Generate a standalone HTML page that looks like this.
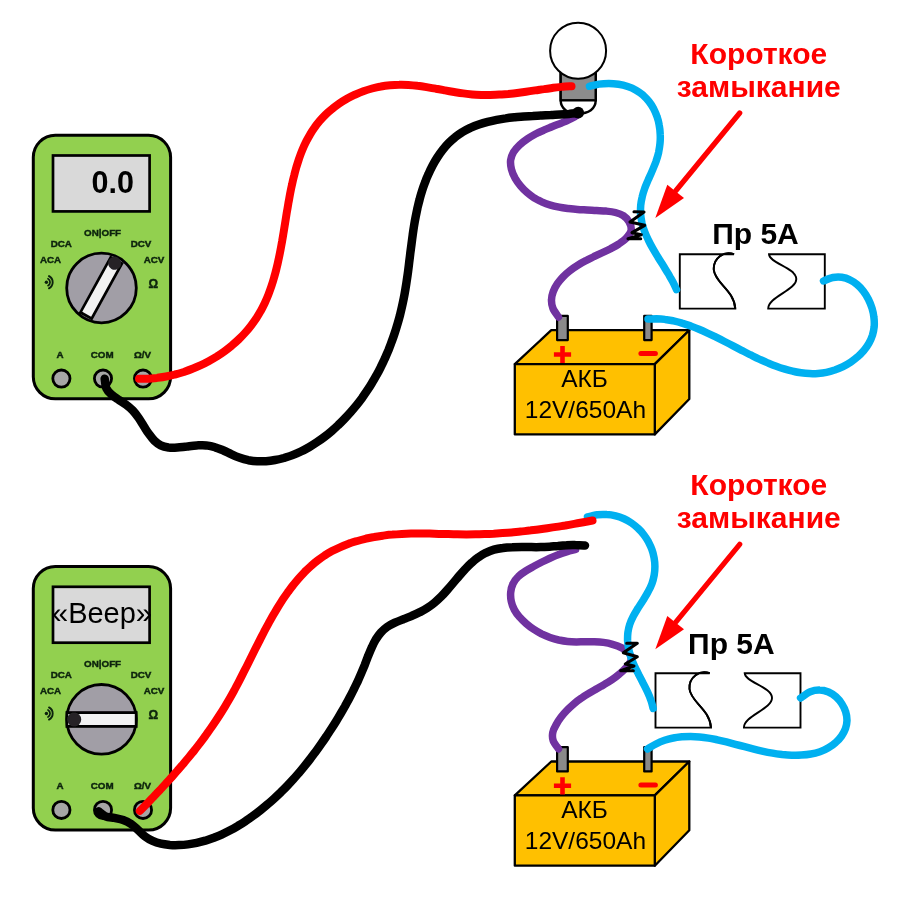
<!DOCTYPE html>
<html lang="ru"><head><meta charset="utf-8"><title>Короткое замыкание</title>
<style>
html,body{margin:0;padding:0;background:#fff;}
body{width:900px;height:910px;overflow:hidden;font-family:"Liberation Sans",sans-serif;}
svg{display:block;}
</style></head>
<body>
<svg width="900" height="910" viewBox="0 0 900 910">
<defs><filter id="soft" x="0" y="0" width="900" height="910" filterUnits="userSpaceOnUse"><feGaussianBlur stdDeviation="0.35"/></filter></defs>
<rect width="900" height="910" fill="#fff"/>
<g filter="url(#soft)">
<!-- ================= TOP ================= -->

<g transform="translate(0,0)">
  <rect x="33.3" y="135.3" width="137.3" height="263.5" rx="22" ry="22" fill="#92d050" stroke="#000" stroke-width="3"/>
  <rect x="53" y="155.5" width="96.6" height="55.9" fill="#d9d9d9" stroke="#000" stroke-width="2.7"/>
  <text x="112.8" y="192.5" font-family="Liberation Sans, sans-serif" font-weight="bold" font-size="30.5" text-anchor="middle" fill="#000">0.0</text>
  <g font-family="Liberation Sans, sans-serif" font-weight="bold" font-size="9.8" fill="#0c240c" stroke="#0c240c" stroke-width="0.45" text-anchor="middle">
    <text x="102.6" y="236">ON|OFF</text>
    <text x="61.3" y="246.6">DCA</text>
    <text x="141" y="246.6">DCV</text>
    <text x="50.5" y="262.6">ACA</text>
    <text x="154" y="262.6">ACV</text>
    <text x="153.4" y="288" font-size="12">Ω</text>
    <text x="60" y="358">A</text>
    <text x="102.2" y="358">COM</text>
    <text x="142.5" y="358">Ω/V</text>
  </g>
  <g fill="none" stroke="#0c240c" stroke-width="1.4" stroke-linecap="round">
    <circle cx="46.4" cy="282.2" r="1.7" fill="#0c240c" stroke="none"/>
    <path d="M48 278.7 A4 4 0 0 1 48 285.7" stroke-width="1.7"/>
    <path d="M49 276.1 A6.9 6.9 0 0 1 49 288.3" stroke-width="1.9"/>
  </g>
  <circle cx="101.5" cy="288" r="34.8" fill="#a19ea6" stroke="#000" stroke-width="2.8"/>
  <g transform="rotate(118.8 101.2 287.9)">
    <rect x="69.75" y="281.5" width="62.9" height="12.8" fill="#f2f2f2" stroke="#000" stroke-width="2.7"/>
    <circle cx="73.1" cy="288" r="6.6" fill="#262428"/>
  </g>
  <circle cx="61.4" cy="378.6" r="8.6" fill="#a6a6a6" stroke="#000" stroke-width="2.8"/>
  <circle cx="103" cy="378.6" r="8.6" fill="#a6a6a6" stroke="#000" stroke-width="2.8"/>
  <circle cx="143" cy="378.6" r="8.6" fill="#a6a6a6" stroke="#000" stroke-width="2.8"/>
</g>
<!-- bulb -->
<path d="M560.7 72V100.3C560.7 109 568 113.6 578.2 113.6C588.5 113.6 595.7 109 595.7 100.3V72Z" fill="#fff" stroke="#000" stroke-width="2.4"/>
<rect x="560.7" y="72" width="35" height="28.3" fill="#8c8c8c" stroke="#000" stroke-width="2.4"/>
<circle cx="578.1" cy="50.7" r="28" fill="#fff" stroke="#000" stroke-width="2"/>

<g transform="translate(0,0)" stroke-linejoin="round">
  <polygon points="514.8,364.1 551.3,330.2 689.3,330.2 654.8,364.1" fill="#ffc000" stroke="#000" stroke-width="2.3"/>
  <polygon points="654.8,364.1 689.3,330.2 689.3,399 654.8,434.4" fill="#ffc000" stroke="#000" stroke-width="2.3"/>
  <rect x="514.8" y="364.1" width="140" height="70.3" fill="#ffc000" stroke="#000" stroke-width="2.3"/>
  <rect x="557.1" y="315.9" width="10.7" height="24.2" fill="#8a8a8a" stroke="#000" stroke-width="2.2"/>
  <rect x="644.2" y="315.9" width="7.4" height="24.2" fill="#8a8a8a" stroke="#000" stroke-width="2.2"/>
  <path d="M553.9 354.5h17.2M562.5 345.9v17.2" stroke="#ff0000" stroke-width="4.6" fill="none"/>
  <path d="M640.9 353.6h14.5" stroke="#ff0000" stroke-width="5" stroke-linecap="round" fill="none"/>
  <g font-family="Liberation Sans, sans-serif" fill="#000" text-anchor="middle" stroke="none">
    <text x="584.6" y="386.8" font-size="24.5">АКБ</text>
    <text x="585.4" y="417.5" font-size="24.5">12V/650Ah</text>
  </g>
</g>

<g transform="translate(0,0)" fill="#fff" stroke="#000" stroke-width="1.9" stroke-linejoin="miter">
  <path d="M734 254.2H679.8V308.6H735.3C734 290 715 283 713.8 270C713 258 724 250.5 734 254.2Z" fill="#fff"/>
  <path d="M734 254.2C724 250.5 713 258 713.8 270C715 283 734 290 735.3 308.6" fill="none"/>
  <path d="M769 254.2H824.8V308.6H768.2C768 297 796.3 290 796.3 279C796.3 268 769.2 263 769 254.2Z"/>
</g>
<text x="755.5" y="243.5" font-family="Liberation Sans, sans-serif" font-weight="bold" font-size="30" text-anchor="middle" fill="#000">Пр 5А</text>
<g fill="none" stroke-linecap="round" stroke-linejoin="round">
  <path d="M577.0 115.5C575.6 116.2 571.4 118.5 568.6 119.8C565.8 121.2 563.0 122.3 560.3 123.5C557.5 124.6 554.7 125.6 551.9 126.8C549.2 127.9 546.4 128.9 543.7 130.2C540.9 131.4 538.2 132.6 535.5 134.0C532.8 135.5 530.1 137.0 527.4 138.9C524.8 140.7 522.0 142.7 519.6 144.9C517.3 147.1 515.0 149.6 513.5 152.1C512.0 154.7 511.0 157.5 510.6 160.3C510.3 163.1 510.7 166.2 511.4 169.1C512.1 172.0 513.4 175.0 514.9 177.8C516.5 180.6 518.5 183.4 520.5 185.9C522.5 188.3 524.8 190.7 527.2 192.7C529.5 194.7 531.9 196.5 534.4 198.1C537.0 199.6 539.6 201.0 542.3 202.1C544.9 203.3 547.7 204.3 550.5 205.1C553.4 206.0 556.3 206.6 559.2 207.2C562.1 207.8 565.2 208.2 568.2 208.6C571.2 208.9 574.3 209.2 577.5 209.4C580.6 209.7 583.7 209.8 586.9 210.0C590.1 210.2 593.3 210.3 596.5 210.5C599.7 210.7 603.0 210.8 606.2 211.1C609.3 211.4 612.5 211.7 615.4 212.5C618.2 213.3 621.0 214.2 623.3 215.7C625.6 217.3 627.9 219.4 629.2 221.9C630.5 224.3 631.5 227.8 631.1 230.5C630.6 233.2 628.3 235.8 626.3 238.1C624.2 240.3 621.4 242.2 618.8 244.0C616.2 245.7 613.5 247.1 610.8 248.6C608.0 250.0 605.2 251.3 602.4 252.6C599.6 253.9 596.8 255.2 594.0 256.5C591.3 257.9 588.5 259.2 585.8 260.7C583.1 262.1 580.4 263.6 577.8 265.2C575.2 266.8 572.7 268.5 570.2 270.4C567.8 272.3 565.4 274.4 563.3 276.6C561.2 278.8 559.1 281.2 557.4 283.7C555.7 286.2 554.2 288.9 553.2 291.6C552.2 294.3 551.5 297.1 551.5 299.9C551.4 302.7 551.8 305.6 553.0 308.5C554.2 311.3 557.6 315.6 558.5 317.0" stroke="#7030a0" stroke-width="7.5"/>
  <path d="M589.5 86.3C591.1 85.9 595.7 84.6 598.9 84.1C602.2 83.6 605.5 83.4 608.8 83.4C612.0 83.4 615.3 83.7 618.5 84.2C621.7 84.7 624.8 85.5 627.7 86.5C630.6 87.5 633.4 88.7 636.0 90.2C638.5 91.6 640.9 93.3 643.1 95.2C645.2 97.1 647.2 99.2 648.9 101.4C650.7 103.7 652.2 106.1 653.6 108.6C654.9 111.2 656.1 113.8 657.0 116.6C658.0 119.4 658.7 122.2 659.2 125.2C659.8 128.1 660.1 131.1 660.2 134.2C660.4 137.2 660.3 140.3 660.0 143.4C659.7 146.5 659.2 149.6 658.6 152.6C657.9 155.7 656.9 158.7 655.9 161.7C654.8 164.7 653.5 167.7 652.3 170.6C651.1 173.6 649.7 176.5 648.4 179.4C647.2 182.3 645.9 185.2 644.8 188.1C643.8 191.0 642.8 193.9 642.2 196.8C641.5 199.7 641.0 202.6 640.7 205.4C640.5 208.3 640.4 211.2 640.6 214.1C640.8 217.0 641.3 219.9 641.9 222.8C642.6 225.7 643.5 228.6 644.6 231.5C645.7 234.4 647.0 237.3 648.4 240.1C649.7 243.0 651.3 245.9 652.9 248.7C654.5 251.5 656.3 254.4 658.0 257.2C659.7 260.0 661.5 262.8 663.2 265.5C664.9 268.3 666.6 271.0 668.2 273.7C669.8 276.5 671.4 279.1 672.8 281.8C674.2 284.4 675.9 288.3 676.5 289.6" stroke="#00b0f0" stroke-width="7.5"/>
  <path d="M823.5 281.0C825.1 280.4 829.9 278.1 832.9 277.5C835.9 276.9 838.9 276.9 841.8 277.2C844.6 277.6 847.4 278.5 849.9 279.8C852.5 281.0 855.0 282.7 857.2 284.6C859.5 286.5 861.6 288.8 863.4 291.2C865.3 293.7 867.0 296.4 868.4 299.2C869.8 302.0 871.0 305.0 872.0 308.1C872.9 311.1 873.6 314.2 873.9 317.3C874.3 320.4 874.4 323.5 874.2 326.5C873.9 329.4 873.3 332.4 872.5 335.1C871.6 337.9 870.4 340.6 869.0 343.1C867.6 345.6 865.9 348.0 864.1 350.3C862.2 352.5 860.2 354.7 857.9 356.6C855.7 358.6 853.3 360.4 850.8 362.1C848.4 363.7 845.7 365.2 843.0 366.6C840.4 367.9 837.6 369.0 834.8 370.0C832.0 370.9 829.2 371.7 826.4 372.3C823.6 372.9 820.8 373.2 818.0 373.4C815.2 373.7 812.3 373.7 809.5 373.6C806.7 373.5 803.9 373.2 801.1 372.8C798.2 372.4 795.4 371.9 792.6 371.2C789.8 370.6 786.9 369.8 784.1 368.9C781.3 368.1 778.5 367.1 775.6 366.0C772.8 365.0 770.0 363.8 767.1 362.6C764.3 361.4 761.5 360.1 758.6 358.8C755.8 357.5 753.0 356.1 750.1 354.7C747.3 353.2 744.5 351.8 741.6 350.3C738.8 348.9 735.9 347.4 733.1 345.9C730.3 344.4 727.4 342.9 724.6 341.5C721.7 340.0 718.9 338.6 716.1 337.2C713.2 335.8 710.4 334.4 707.5 333.1C704.7 331.8 701.9 330.5 699.0 329.3C696.2 328.1 693.3 327.0 690.5 325.9C687.7 324.9 684.8 323.9 682.0 323.1C679.2 322.2 676.3 321.5 673.5 320.9C670.6 320.3 667.8 319.7 665.0 319.4C662.1 319.0 659.3 318.8 656.5 318.7C653.7 318.7 649.4 319.0 648.0 319.0" stroke="#00b0f0" stroke-width="7.5"/>
  <path d="M104.7 378.7C105.0 380.3 105.2 385.5 106.3 388.2C107.5 390.9 109.5 392.8 111.6 394.7C113.6 396.6 116.2 398.1 118.6 399.7C121.0 401.4 123.6 402.8 126.0 404.6C128.4 406.4 130.7 408.3 132.8 410.5C134.9 412.7 136.8 415.3 138.6 417.9C140.4 420.5 142.0 423.3 143.7 426.0C145.4 428.6 147.0 431.4 148.8 433.8C150.6 436.3 152.3 438.7 154.3 440.6C156.3 442.5 158.4 444.2 160.7 445.3C163.1 446.5 165.7 447.1 168.5 447.5C171.3 447.8 174.3 447.7 177.4 447.5C180.5 447.3 183.7 446.8 187.0 446.5C190.2 446.1 193.5 445.6 196.7 445.4C199.9 445.3 203.2 445.1 206.2 445.4C209.3 445.8 212.2 446.4 215.1 447.3C218.0 448.1 220.7 449.4 223.5 450.5C226.2 451.7 228.9 453.1 231.6 454.3C234.3 455.6 237.0 456.8 239.8 457.8C242.6 458.8 245.4 459.6 248.3 460.2C251.2 460.7 254.1 461.1 257.1 461.2C260.0 461.4 263.0 461.4 266.0 461.2C269.0 461.0 272.0 460.6 275.0 460.0C278.0 459.5 280.9 458.8 283.9 458.0C286.8 457.1 289.7 456.2 292.5 455.1C295.4 454.0 298.2 452.8 300.9 451.5C303.7 450.2 306.4 448.7 309.0 447.2C311.7 445.7 314.3 444.0 316.8 442.3C319.4 440.6 321.9 438.8 324.3 437.0C326.8 435.1 329.2 433.2 331.5 431.2C333.8 429.2 336.1 427.1 338.3 425.0C340.6 422.9 342.7 420.7 344.8 418.5C346.9 416.3 349.0 414.1 351.0 411.8C353.0 409.5 354.9 407.2 356.8 404.9C358.7 402.5 360.5 400.1 362.3 397.7C364.0 395.2 365.7 392.7 367.4 390.2C369.1 387.7 370.7 385.2 372.2 382.6C373.8 380.0 375.3 377.4 376.7 374.8C378.2 372.2 379.6 369.5 380.9 366.8C382.3 364.1 383.5 361.4 384.8 358.7C386.0 355.9 387.2 353.2 388.4 350.4C389.5 347.6 390.6 344.8 391.6 341.9C392.7 339.1 393.7 336.2 394.6 333.4C395.6 330.5 396.5 327.6 397.3 324.7C398.2 321.8 399.0 318.9 399.8 315.9C400.5 313.0 401.2 310.1 401.9 307.1C402.6 304.1 403.2 301.2 403.8 298.2C404.4 295.2 404.9 292.2 405.4 289.2C405.9 286.2 406.4 283.2 406.8 280.2C407.3 277.2 407.7 274.2 408.1 271.2C408.5 268.2 408.9 265.2 409.2 262.1C409.6 259.1 410.0 256.1 410.3 253.1C410.7 250.1 411.1 247.1 411.5 244.1C411.9 241.1 412.3 238.0 412.7 235.0C413.1 232.1 413.5 229.1 414.0 226.1C414.5 223.1 415.0 220.1 415.6 217.2C416.2 214.2 416.8 211.2 417.4 208.3C418.1 205.4 418.8 202.4 419.6 199.5C420.3 196.6 421.2 193.7 422.1 190.8C423.0 188.0 424.0 185.1 425.1 182.3C426.1 179.4 427.3 176.6 428.6 173.8C429.8 171.0 431.2 168.2 432.6 165.5C434.0 162.8 435.6 160.1 437.2 157.6C438.9 155.0 440.6 152.5 442.5 150.1C444.4 147.7 446.3 145.4 448.4 143.3C450.5 141.2 452.7 139.1 455.0 137.3C457.3 135.4 459.8 133.7 462.3 132.1C464.9 130.6 467.6 129.2 470.3 127.9C473.1 126.7 475.9 125.6 478.8 124.6C481.7 123.6 484.7 122.7 487.7 121.9C490.6 121.2 493.7 120.5 496.7 119.9C499.7 119.3 502.7 118.8 505.7 118.4C508.7 117.9 511.8 117.6 514.8 117.3C517.8 116.9 520.8 116.7 523.8 116.4C526.8 116.2 529.8 116.0 532.8 115.9C535.8 115.7 538.8 115.5 541.8 115.4C544.8 115.2 547.8 115.1 550.8 115.0C553.8 114.8 556.8 114.7 559.8 114.5C562.8 114.3 565.8 114.1 568.9 113.9C571.9 113.6 576.5 113.1 578.0 113.0" stroke="#000" stroke-width="8.5"/>
  <path d="M139.0 378.8C140.5 378.8 145.0 378.8 148.0 378.7C151.0 378.5 154.0 378.2 157.0 377.9C160.0 377.5 163.1 377.1 166.0 376.5C169.0 375.9 172.0 375.3 175.0 374.5C177.9 373.8 180.9 372.9 183.8 372.0C186.7 371.0 189.6 370.0 192.4 368.8C195.3 367.7 198.1 366.5 200.9 365.2C203.7 363.9 206.4 362.5 209.1 361.0C211.8 359.5 214.4 358.0 217.0 356.4C219.6 354.7 222.1 353.0 224.6 351.2C227.1 349.4 229.5 347.5 231.8 345.6C234.1 343.6 236.4 341.6 238.6 339.5C240.8 337.4 242.9 335.3 244.9 333.0C246.9 330.8 248.9 328.5 250.7 326.1C252.5 323.8 254.3 321.3 256.0 318.8C257.6 316.3 259.2 313.8 260.6 311.2C262.1 308.6 263.4 305.9 264.7 303.2C266.0 300.4 267.2 297.7 268.3 294.9C269.4 292.0 270.4 289.2 271.4 286.3C272.4 283.4 273.3 280.4 274.1 277.5C275.0 274.5 275.8 271.5 276.5 268.5C277.3 265.4 278.0 262.4 278.6 259.3C279.3 256.2 279.9 253.1 280.5 250.0C281.1 246.9 281.6 243.8 282.2 240.7C282.7 237.5 283.3 234.4 283.8 231.2C284.3 228.1 284.8 225.0 285.3 221.8C285.8 218.7 286.3 215.5 286.8 212.4C287.4 209.3 287.9 206.2 288.4 203.1C289.0 200.0 289.5 196.9 290.1 193.8C290.7 190.7 291.3 187.7 292.0 184.7C292.6 181.7 293.3 178.7 294.1 175.7C294.8 172.8 295.6 169.9 296.4 167.0C297.3 164.1 298.2 161.3 299.1 158.5C300.1 155.7 301.1 152.9 302.2 150.3C303.3 147.6 304.5 144.9 305.8 142.3C307.1 139.8 308.4 137.2 309.9 134.8C311.3 132.3 312.8 129.9 314.5 127.6C316.1 125.3 317.9 123.0 319.7 120.9C321.6 118.7 323.6 116.6 325.6 114.6C327.7 112.5 329.9 110.6 332.2 108.8C334.5 106.9 336.9 105.2 339.3 103.5C341.8 101.8 344.3 100.3 346.9 98.8C349.5 97.3 352.2 96.0 354.9 94.7C357.7 93.5 360.5 92.3 363.3 91.3C366.2 90.2 369.1 89.3 372.0 88.5C374.9 87.7 377.9 87.0 380.9 86.5C383.9 85.9 386.9 85.5 390.0 85.2C393.0 84.9 396.1 84.7 399.1 84.7C402.2 84.6 405.2 84.7 408.3 84.9C411.3 85.1 414.4 85.4 417.4 85.8C420.5 86.1 423.6 86.6 426.6 87.1C429.7 87.6 432.8 88.1 435.8 88.7C438.9 89.2 441.9 89.8 445.0 90.4C448.0 90.9 451.1 91.5 454.1 92.0C457.2 92.5 460.2 93.0 463.2 93.4C466.3 93.8 469.3 94.1 472.3 94.4C475.3 94.7 478.3 94.8 481.3 94.9C484.3 95.0 487.3 95.0 490.3 95.0C493.3 94.9 496.3 94.8 499.3 94.6C502.3 94.5 505.2 94.2 508.2 94.0C511.2 93.7 514.2 93.4 517.2 93.0C520.1 92.6 523.1 92.2 526.1 91.8C529.1 91.4 532.1 90.9 535.1 90.4C538.1 90.0 541.1 89.5 544.1 89.1C547.1 88.6 550.2 88.2 553.2 87.8C556.2 87.4 559.3 87.1 562.3 86.8C565.4 86.5 570.0 86.3 571.5 86.2" stroke="#ff0000" stroke-width="8"/>
  <path d="M634.0 211.7L644.0 212.0L630.0 222.0L644.7 225.3L632.0 232.7L641.3 234.7L628.0 238.7L640.7 238.7" stroke="#000" stroke-width="3.1"/>
</g>
<circle cx="578.2" cy="112.6" r="5.9" fill="#000"/>

<g transform="translate(0,0)" font-family="Liberation Sans, sans-serif" font-weight="bold" fill="#ff0000" text-anchor="middle" font-size="30">
  <text x="758.8" y="64">Короткое</text>
  <text x="758.8" y="97.2">замыкание</text>
</g>
<g transform="translate(0,0)">
  <path d="M739.7 113L676 190.5" stroke="#ff0000" stroke-width="5.2" stroke-linecap="round" fill="none"/>
  <polygon points="655.3,218 667.3,184.7 684,198" fill="#ff0000"/>
</g>
<!-- ================= BOTTOM ================= -->

<g transform="translate(0,431.3)">
  <rect x="33.3" y="135.3" width="137.3" height="263.5" rx="22" ry="22" fill="#92d050" stroke="#000" stroke-width="3"/>
  <rect x="53" y="155.5" width="96.6" height="55.9" fill="#d9d9d9" stroke="#000" stroke-width="2.7"/>
  <text x="102" y="192" font-family="Liberation Sans, sans-serif" font-size="29" text-anchor="middle" fill="#000">«Beep»</text>
  <g font-family="Liberation Sans, sans-serif" font-weight="bold" font-size="9.8" fill="#0c240c" stroke="#0c240c" stroke-width="0.45" text-anchor="middle">
    <text x="102.6" y="236">ON|OFF</text>
    <text x="61.3" y="246.6">DCA</text>
    <text x="141" y="246.6">DCV</text>
    <text x="50.5" y="262.6">ACA</text>
    <text x="154" y="262.6">ACV</text>
    <text x="153.4" y="288" font-size="12">Ω</text>
    <text x="60" y="358">A</text>
    <text x="102.2" y="358">COM</text>
    <text x="142.5" y="358">Ω/V</text>
  </g>
  <g fill="none" stroke="#0c240c" stroke-width="1.4" stroke-linecap="round">
    <circle cx="46.4" cy="282.2" r="1.7" fill="#0c240c" stroke="none"/>
    <path d="M48 278.7 A4 4 0 0 1 48 285.7" stroke-width="1.7"/>
    <path d="M49 276.1 A6.9 6.9 0 0 1 49 288.3" stroke-width="1.9"/>
  </g>
  <circle cx="101.5" cy="288" r="34.8" fill="#a19ea6" stroke="#000" stroke-width="2.8"/>
  <g>
    <rect x="66.9" y="281.3" width="69.3" height="13.8" fill="#f2f2f2" stroke="#000" stroke-width="2.8"/>
    <circle cx="74.2" cy="288.2" r="7" fill="#262428"/>
  </g>
  <circle cx="61.4" cy="378.6" r="8.6" fill="#a6a6a6" stroke="#000" stroke-width="2.8"/>
  <circle cx="103" cy="378.6" r="8.6" fill="#a6a6a6" stroke="#000" stroke-width="2.8"/>
  <circle cx="143" cy="378.6" r="8.6" fill="#a6a6a6" stroke="#000" stroke-width="2.8"/>
</g>

<g transform="translate(0,431.3)" stroke-linejoin="round">
  <polygon points="514.8,364.1 551.3,330.2 689.3,330.2 654.8,364.1" fill="#ffc000" stroke="#000" stroke-width="2.3"/>
  <polygon points="654.8,364.1 689.3,330.2 689.3,399 654.8,434.4" fill="#ffc000" stroke="#000" stroke-width="2.3"/>
  <rect x="514.8" y="364.1" width="140" height="70.3" fill="#ffc000" stroke="#000" stroke-width="2.3"/>
  <rect x="557.1" y="315.9" width="10.7" height="24.2" fill="#8a8a8a" stroke="#000" stroke-width="2.2"/>
  <rect x="644.2" y="315.9" width="7.4" height="24.2" fill="#8a8a8a" stroke="#000" stroke-width="2.2"/>
  <path d="M553.9 354.5h17.2M562.5 345.9v17.2" stroke="#ff0000" stroke-width="4.6" fill="none"/>
  <path d="M640.9 353.6h14.5" stroke="#ff0000" stroke-width="5" stroke-linecap="round" fill="none"/>
  <g font-family="Liberation Sans, sans-serif" fill="#000" text-anchor="middle" stroke="none">
    <text x="584.6" y="386.8" font-size="24.5">АКБ</text>
    <text x="585.4" y="417.5" font-size="24.5">12V/650Ah</text>
  </g>
</g>

<g transform="translate(-24.3,419)" fill="#fff" stroke="#000" stroke-width="1.9" stroke-linejoin="miter">
  <path d="M734 254.2H679.8V308.6H735.3C734 290 715 283 713.8 270C713 258 724 250.5 734 254.2Z" fill="#fff"/>
  <path d="M734 254.2C724 250.5 713 258 713.8 270C715 283 734 290 735.3 308.6" fill="none"/>
  <path d="M769 254.2H824.8V308.6H768.2C768 297 796.3 290 796.3 279C796.3 268 769.2 263 769 254.2Z"/>
</g>
<text x="731.4" y="654" font-family="Liberation Sans, sans-serif" font-weight="bold" font-size="30" text-anchor="middle" fill="#000">Пр 5А</text>
<g fill="none" stroke-linecap="round" stroke-linejoin="round">
  <path d="M575.6 549.5C574.1 549.9 569.5 551.0 566.6 551.9C563.6 552.7 560.8 553.7 558.1 554.8C555.3 555.8 552.6 557.0 549.9 558.2C547.3 559.4 544.6 560.7 542.0 562.0C539.3 563.4 536.6 564.8 533.9 566.3C531.2 567.8 528.3 569.3 525.7 571.0C523.0 572.7 520.3 574.5 518.2 576.6C516.0 578.7 514.2 581.2 513.0 583.8C511.7 586.4 511.0 589.5 510.7 592.4C510.4 595.4 510.7 598.6 511.3 601.5C511.9 604.4 513.0 607.3 514.4 609.9C515.8 612.6 517.7 615.0 519.7 617.2C521.6 619.5 523.9 621.6 526.2 623.6C528.5 625.6 531.0 627.5 533.5 629.1C536.1 630.8 538.8 632.4 541.5 633.8C544.3 635.1 547.1 636.3 550.0 637.4C552.8 638.4 555.8 639.3 558.7 640.0C561.7 640.6 564.6 641.1 567.6 641.4C570.6 641.7 573.5 641.8 576.5 641.9C579.4 641.9 582.4 641.8 585.4 641.8C588.3 641.8 591.3 641.7 594.3 641.8C597.3 641.9 600.3 642.0 603.4 642.4C606.4 642.8 609.5 643.4 612.5 644.3C615.6 645.2 619.0 646.4 621.8 647.9C624.6 649.4 627.7 651.2 629.3 653.3C630.8 655.3 631.6 657.8 631.1 660.2C630.6 662.6 628.1 665.3 626.1 667.7C624.1 670.0 621.7 672.2 619.3 674.1C617.0 676.1 614.6 677.9 612.1 679.6C609.6 681.3 607.1 682.8 604.5 684.3C602.0 685.9 599.4 687.3 596.8 688.8C594.2 690.3 591.6 691.7 589.0 693.3C586.4 694.8 583.8 696.4 581.3 698.2C578.8 699.9 576.3 701.8 573.9 703.8C571.6 705.8 569.2 707.9 567.1 710.1C564.9 712.3 562.9 714.7 561.1 717.1C559.3 719.5 557.6 722.0 556.2 724.6C554.8 727.1 553.3 729.7 552.8 732.4C552.3 735.1 552.2 738.0 553.2 740.7C554.2 743.5 557.6 747.5 558.5 748.8" stroke="#7030a0" stroke-width="7.5"/>
  <path d="M587.5 517.0C589.1 516.6 594.2 515.3 597.4 514.8C600.6 514.4 603.8 514.4 606.8 514.6C609.9 514.7 612.9 515.2 615.7 515.9C618.6 516.6 621.3 517.6 624.0 518.8C626.6 520.0 629.1 521.4 631.5 523.0C633.8 524.6 636.1 526.4 638.1 528.4C640.2 530.3 642.1 532.5 643.8 534.7C645.6 537.0 647.1 539.4 648.5 541.9C649.8 544.4 651.0 547.0 651.9 549.6C652.9 552.3 653.6 555.1 654.1 557.9C654.6 560.7 654.9 563.5 654.9 566.4C654.9 569.2 654.7 572.1 654.2 575.0C653.7 577.8 653.0 580.7 652.0 583.5C651.0 586.3 649.6 589.1 648.1 591.8C646.7 594.6 644.9 597.3 643.3 600.0C641.6 602.7 639.8 605.4 638.1 608.0C636.5 610.7 634.8 613.4 633.4 616.1C632.0 618.8 630.8 621.5 629.8 624.2C628.9 627.0 628.3 629.7 627.9 632.5C627.6 635.3 627.5 638.1 627.6 640.9C627.8 643.7 628.2 646.5 628.8 649.4C629.4 652.2 630.2 655.1 631.2 657.9C632.2 660.7 633.5 663.6 634.7 666.4C636.0 669.3 637.5 672.1 638.9 675.0C640.4 677.8 641.9 680.7 643.3 683.5C644.8 686.3 646.2 689.1 647.5 691.9C648.8 694.7 650.0 697.5 650.9 700.3C651.9 703.0 652.8 707.1 653.2 708.5" stroke="#00b0f0" stroke-width="7.5"/>
  <path d="M800.6 698.0C802.2 696.9 807.1 693.0 810.3 691.7C813.5 690.4 816.8 689.9 819.8 690.0C822.8 690.0 825.8 690.9 828.5 692.0C831.2 693.2 833.8 694.9 836.1 696.9C838.3 698.9 840.3 701.3 841.9 703.9C843.5 706.4 844.9 709.2 845.7 712.0C846.6 714.8 847.0 717.7 847.0 720.4C846.9 723.2 846.4 726.0 845.5 728.6C844.6 731.2 843.2 733.7 841.6 736.0C840.0 738.3 837.9 740.6 835.7 742.5C833.6 744.5 831.0 746.3 828.4 747.8C825.8 749.4 822.9 750.7 820.0 751.7C817.1 752.7 814.0 753.5 810.9 754.0C807.8 754.6 804.5 754.9 801.3 755.1C798.1 755.3 794.9 755.3 791.7 755.2C788.5 755.1 785.3 754.8 782.1 754.5C778.9 754.1 775.8 753.7 772.6 753.1C769.5 752.6 766.3 752.0 763.2 751.3C760.1 750.6 757.0 749.9 753.9 749.1C750.8 748.3 747.7 747.5 744.6 746.7C741.5 745.9 738.5 745.1 735.4 744.3C732.4 743.5 729.4 742.7 726.4 741.9C723.3 741.2 720.3 740.5 717.3 739.8C714.3 739.2 711.4 738.6 708.4 738.1C705.4 737.6 702.5 737.2 699.5 736.9C696.6 736.6 693.6 736.4 690.7 736.4C687.8 736.4 684.8 736.4 681.9 736.7C679.0 737.0 676.1 737.3 673.2 738.0C670.4 738.6 667.5 739.3 664.6 740.3C661.7 741.3 658.9 742.5 656.0 744.0C653.2 745.4 648.9 748.2 647.5 749.0" stroke="#00b0f0" stroke-width="7.5"/>
  <path d="M98.5 811.3C99.7 812.1 102.9 815.2 105.5 816.3C108.1 817.4 111.4 817.4 114.3 817.9C117.3 818.5 120.4 818.9 123.2 819.9C126.0 820.9 128.6 822.2 131.1 823.9C133.6 825.6 135.8 827.9 138.1 830.0C140.4 832.0 142.5 834.5 144.9 836.3C147.3 838.1 149.9 839.7 152.6 840.9C155.3 842.1 158.1 843.0 161.0 843.7C163.9 844.4 166.9 844.7 169.9 845.0C172.9 845.2 175.9 845.2 178.9 845.1C181.9 845.0 184.9 844.8 187.9 844.4C190.8 844.0 193.8 843.5 196.7 842.9C199.6 842.3 202.5 841.5 205.3 840.7C208.2 839.8 211.0 838.8 213.8 837.8C216.6 836.7 219.4 835.6 222.1 834.3C224.8 833.1 227.5 831.7 230.2 830.3C232.9 828.9 235.5 827.4 238.1 825.8C240.7 824.3 243.3 822.6 245.8 820.9C248.4 819.3 250.9 817.5 253.3 815.7C255.8 813.9 258.2 812.0 260.6 810.1C263.0 808.2 265.3 806.3 267.6 804.3C269.9 802.4 272.2 800.3 274.4 798.3C276.6 796.3 278.8 794.2 281.0 792.1C283.1 790.0 285.2 787.9 287.3 785.7C289.4 783.5 291.4 781.3 293.4 779.1C295.4 776.9 297.4 774.6 299.4 772.4C301.3 770.1 303.2 767.8 305.1 765.4C307.0 763.1 308.8 760.8 310.6 758.4C312.5 756.0 314.2 753.6 316.0 751.2C317.8 748.8 319.5 746.4 321.2 743.9C322.9 741.5 324.6 739.0 326.3 736.5C327.9 734.0 329.6 731.5 331.2 729.0C332.8 726.5 334.4 724.0 336.0 721.4C337.5 718.9 339.1 716.3 340.6 713.8C342.1 711.2 343.6 708.6 345.1 706.0C346.5 703.3 348.0 700.7 349.4 698.0C350.8 695.4 352.2 692.7 353.5 690.0C354.9 687.3 356.2 684.5 357.5 681.8C358.8 679.0 360.0 676.2 361.2 673.4C362.4 670.6 363.6 667.7 364.8 664.8C365.9 661.9 367.0 659.0 368.1 656.1C369.3 653.2 370.4 650.3 371.7 647.6C372.9 644.8 374.2 642.1 375.7 639.6C377.3 637.1 378.9 634.7 380.8 632.6C382.7 630.5 384.8 628.6 387.2 626.9C389.5 625.3 392.2 624.0 394.9 622.7C397.6 621.4 400.6 620.3 403.4 619.2C406.2 618.0 409.2 617.0 411.9 615.8C414.7 614.7 417.4 613.5 420.0 612.1C422.6 610.8 425.2 609.4 427.6 607.8C430.0 606.2 432.4 604.5 434.6 602.6C436.9 600.7 439.1 598.7 441.2 596.6C443.3 594.5 445.3 592.2 447.3 589.9C449.3 587.7 451.3 585.3 453.3 582.9C455.3 580.6 457.2 578.2 459.2 575.9C461.2 573.6 463.2 571.3 465.2 569.1C467.3 566.9 469.4 564.7 471.6 562.8C473.8 560.8 476.0 558.9 478.4 557.3C480.7 555.6 483.2 554.1 485.8 552.8C488.4 551.6 491.1 550.5 493.9 549.7C496.8 548.9 499.8 548.4 502.9 548.0C505.9 547.5 509.1 547.3 512.3 547.2C515.4 547.0 518.7 547.0 521.9 547.0C525.1 547.0 528.3 547.1 531.5 547.1C534.6 547.2 537.8 547.2 540.8 547.1C543.8 547.1 546.7 546.9 549.6 546.7C552.4 546.5 555.2 546.2 558.0 546.0C560.8 545.7 563.6 545.4 566.5 545.3C569.3 545.1 572.2 545.0 575.3 545.1C578.4 545.1 583.4 545.5 585.0 545.6" stroke="#000" stroke-width="8.5"/>
  <path d="M139.8 811.0C140.9 809.9 144.2 806.5 146.4 804.2C148.6 801.9 150.8 799.7 152.9 797.4C155.0 795.2 157.2 792.9 159.3 790.7C161.4 788.5 163.4 786.2 165.5 784.0C167.5 781.8 169.6 779.5 171.6 777.3C173.6 775.0 175.5 772.8 177.5 770.5C179.5 768.3 181.4 766.0 183.3 763.8C185.2 761.5 187.1 759.2 189.0 757.0C190.9 754.7 192.7 752.4 194.6 750.1C196.4 747.7 198.2 745.4 200.0 743.1C201.8 740.7 203.5 738.4 205.3 736.0C207.0 733.6 208.7 731.2 210.4 728.8C212.1 726.4 213.8 723.9 215.4 721.5C217.1 719.0 218.7 716.5 220.3 714.0C221.9 711.5 223.5 708.9 225.1 706.3C226.6 703.8 228.2 701.1 229.7 698.5C231.2 695.9 232.7 693.2 234.2 690.5C235.6 687.8 237.1 685.0 238.5 682.3C240.0 679.5 241.4 676.7 242.8 673.9C244.2 671.1 245.7 668.3 247.1 665.5C248.5 662.7 249.9 659.8 251.3 657.0C252.7 654.2 254.1 651.3 255.5 648.5C256.9 645.7 258.4 642.9 259.8 640.1C261.2 637.3 262.7 634.5 264.1 631.7C265.6 628.9 267.1 626.1 268.6 623.4C270.1 620.7 271.6 617.9 273.1 615.3C274.7 612.6 276.2 609.9 277.8 607.3C279.4 604.7 281.1 602.1 282.7 599.6C284.4 597.1 286.1 594.6 287.8 592.2C289.6 589.8 291.3 587.4 293.2 585.1C295.0 582.7 296.9 580.5 298.8 578.3C300.7 576.1 302.7 574.0 304.7 571.9C306.8 569.9 308.8 567.9 311.0 566.0C313.1 564.1 315.3 562.2 317.6 560.5C319.9 558.8 322.2 557.1 324.6 555.5C327.0 554.0 329.5 552.5 332.0 551.1C334.6 549.7 337.2 548.5 339.9 547.3C342.5 546.1 345.3 545.0 348.0 544.0C350.8 542.9 353.7 542.0 356.5 541.2C359.4 540.3 362.3 539.5 365.3 538.8C368.2 538.2 371.2 537.5 374.2 537.0C377.2 536.4 380.3 536.0 383.3 535.6C386.4 535.2 389.5 534.8 392.5 534.6C395.6 534.3 398.7 534.1 401.8 533.9C404.9 533.8 407.9 533.7 411.0 533.6C414.1 533.5 417.2 533.5 420.3 533.5C423.4 533.5 426.5 533.6 429.6 533.6C432.7 533.7 435.8 533.8 438.8 533.9C441.9 533.9 445.0 534.0 448.1 534.1C451.2 534.2 454.2 534.3 457.3 534.3C460.3 534.4 463.4 534.4 466.4 534.4C469.5 534.4 472.5 534.4 475.5 534.3C478.6 534.3 481.6 534.2 484.6 534.1C487.6 534.0 490.6 533.8 493.6 533.7C496.6 533.5 499.6 533.3 502.6 533.1C505.6 532.9 508.5 532.7 511.5 532.4C514.5 532.1 517.5 531.9 520.5 531.6C523.4 531.3 526.4 530.9 529.4 530.6C532.4 530.2 535.4 529.9 538.3 529.5C541.3 529.1 544.3 528.7 547.3 528.2C550.3 527.8 553.3 527.4 556.3 526.9C559.2 526.4 562.2 526.0 565.3 525.5C568.3 524.9 571.3 524.4 574.3 523.9C577.3 523.4 580.3 522.8 583.4 522.2C586.4 521.7 591.0 520.8 592.5 520.5" stroke="#ff0000" stroke-width="8"/>
  <path d="M626.7 643.3L637.3 643.3L623.3 652.7L637.3 656.7L625.3 664.0L634.0 666.0L620.7 670.7L633.3 670.7" stroke="#000" stroke-width="3.1"/>
</g>

<g transform="translate(0,431.3)" font-family="Liberation Sans, sans-serif" font-weight="bold" fill="#ff0000" text-anchor="middle" font-size="30">
  <text x="758.8" y="64">Короткое</text>
  <text x="758.8" y="97.2">замыкание</text>
</g>
<g transform="translate(0,431.3)">
  <path d="M739.7 113L676 190.5" stroke="#ff0000" stroke-width="5.2" stroke-linecap="round" fill="none"/>
  <polygon points="655.3,218 667.3,184.7 684,198" fill="#ff0000"/>
</g>
</g>
</svg>
</body></html>
